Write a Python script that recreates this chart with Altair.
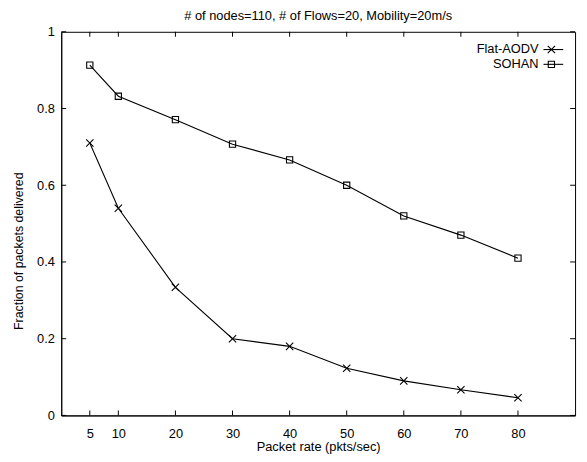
import altair as alt
import pandas as pd

rates = [5, 10, 20, 30, 40, 50, 60, 70, 80]
flat_aodv = [0.71, 0.54, 0.334, 0.20, 0.18, 0.123, 0.09, 0.067, 0.046]
sohan = [0.913, 0.832, 0.771, 0.707, 0.666, 0.60, 0.52, 0.47, 0.41]
series_names = ["Flat-AODV", "SOHAN"]
x_ticks = [5, 10, 20, 30, 40, 50, 60, 70, 80]
y_ticks = [0, 0.2, 0.4, 0.6, 0.8, 1.0]
title_text = "# of nodes=110, # of Flows=20, Mobility=20m/s"
x_title = "Packet rate (pkts/sec)"
y_title = "Fraction of packets delivered"

W, H = 521, 389
FONT = "Liberation Sans"
XSHAPE = "M-1,-1L1,1M-1,1L1,-1"

df = pd.DataFrame({
    "rate": rates * 2,
    "value": flat_aodv + sohan,
    "series": [series_names[0]] * len(rates) + [series_names[1]] * len(rates),
})

xs = alt.Scale(domain=[0, 90], nice=False, zero=False)
ys = alt.Scale(domain=[0, 1], nice=False)
shape_scale = alt.Scale(domain=series_names, range=[XSHAPE, "square"])
size_scale = alt.Scale(domain=series_names, range=[55, 40])

x_axis = alt.Axis(values=x_ticks, ticks=False, grid=False, labelPadding=12,
                  titlePadding=1, domainColor="black", labelColor="black",
                  titleColor="black", labelFontSize=13, titleFontSize=13,
                  labelFont=FONT, titleFont=FONT, titleFontWeight="normal")
y_axis = alt.Axis(values=y_ticks, ticks=False, grid=False, labelPadding=7,
                  titlePadding=11, format="~g", domainColor="black",
                  labelColor="black", titleColor="black", labelFontSize=13,
                  titleFontSize=12.5, labelFont=FONT, titleFont=FONT,
                  titleFontWeight="normal", titleY=222)


def X(field):
    return alt.X(field, scale=xs, axis=x_axis, title=x_title)


def Y(field):
    return alt.Y(field, scale=ys, axis=y_axis, title=y_title)


lines = alt.Chart(df).mark_line(color="black", strokeWidth=1.1).encode(
    x=X("rate:Q"), y=Y("value:Q"), detail="series:N")

points = alt.Chart(df).mark_point(color="black", filled=False, strokeWidth=1.1, opacity=1).encode(
    x=X("rate:Q"), y=Y("value:Q"),
    shape=alt.Shape("series:N", scale=shape_scale, legend=None),
    size=alt.Size("series:N", scale=size_scale, legend=None))

xt_df = pd.DataFrame({"t": x_ticks})
yt_df = pd.DataFrame({"t": y_ticks})
xt_bottom = alt.Chart(xt_df).mark_rule(color="black", strokeWidth=1).encode(
    x=X("t:Q"), y=alt.value(H), y2=alt.value(H - 5))
xt_top = alt.Chart(xt_df).mark_rule(color="black", strokeWidth=1).encode(
    x=X("t:Q"), y=alt.value(0), y2=alt.value(5))
yt_left = alt.Chart(yt_df).mark_rule(color="black", strokeWidth=1).encode(
    y=Y("t:Q"), x=alt.value(0), x2=alt.value(5))
yt_right = alt.Chart(yt_df).mark_rule(color="black", strokeWidth=1).encode(
    y=Y("t:Q"), x=alt.value(W - 5), x2=alt.value(W))

legend_layers = []
for i, name in enumerate(series_names):
    ly = 18 + 15 * i
    ldf = pd.DataFrame({"series": [name]})
    legend_layers.append(alt.Chart(ldf).mark_text(align="right", baseline="middle", fontSize=13,
                                                   font=FONT, color="black").encode(
        text="series:N", x=alt.value(484), y=alt.value(ly)))
    legend_layers.append(alt.Chart(ldf).mark_rule(color="black", strokeWidth=1.1).encode(
        x=alt.value(489), x2=alt.value(509), y=alt.value(ly)))
    legend_layers.append(alt.Chart(ldf).mark_point(color="black", filled=False, strokeWidth=1.1,
                                                   opacity=1).encode(
        x=alt.value(497), y=alt.value(ly),
        shape=alt.Shape("series:N", scale=shape_scale, legend=None),
        size=alt.Size("series:N", scale=size_scale, legend=None)))

chart = alt.layer(lines, points, xt_bottom, xt_top, yt_left, yt_right, *legend_layers).properties(
    width=W, height=H,
    background="white",
    title=alt.Title(title_text, fontSize=13, font=FONT, fontWeight="normal", color="black",
                    anchor="middle", offset=3),
    autosize=alt.AutoSizeParams(type="none"),
    padding={"left": 54, "top": 21, "right": 4, "bottom": 36},
).configure_view(stroke="black", strokeWidth=1)

chart.save("out.html", embed_options={"renderer": "svg", "actions": False})
